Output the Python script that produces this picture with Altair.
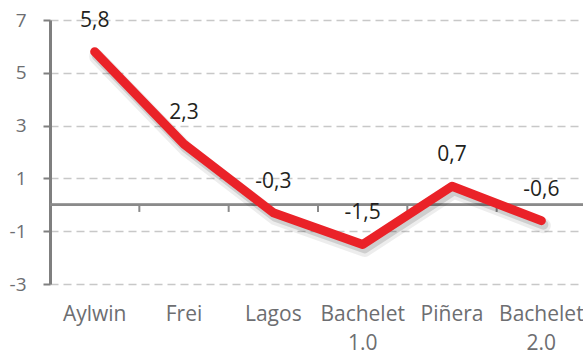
import altair as alt
import pandas as pd

# GDP-style change by presidency
presidents = ["Aylwin", "Frei", "Lagos", "Bachelet 1.0", "Piñera", "Bachelet 2.0"]
values = [5.8, 2.3, -0.3, -1.5, 0.7, -0.6]
y_ticks = [-3, -1, 1, 3, 5, 7]

df = pd.DataFrame({"presidente": presidents, "valor": values})
df["etiqueta"] = [f"{v:.1f}".replace(".", ",") for v in values]

font = "Open Sans"
axis_gray = "#7f7f7f"
red = "#ea2228"

x_scale = alt.Scale(type="band", domain=presidents, range=[0, 536],
                    paddingInner=0, paddingOuter=0)
y_scale = alt.Scale(domain=[-3, 7], nice=False, zero=False)

x_enc = alt.X(
    "presidente:N", scale=x_scale, bandPosition=0.5,
    axis=alt.Axis(title=None, labelAngle=0, ticks=False, domain=False, grid=False,
                  labelExpr="split(datum.label, ' ')", labelFont=font,
                  labelFontSize=21, labelColor="#6d6e71", labelPadding=30,
                  labelAlign="center", labelLineHeight=29),
)
y_enc = alt.Y(
    "valor:Q", scale=y_scale,
    axis=alt.Axis(title=None, values=y_ticks, grid=True, gridDash=[8, 5],
                  gridColor="#c8c8c8", gridWidth=1.5, domainColor=axis_gray,
                  domainWidth=3, tickColor=axis_gray, tickSize=7, tickWidth=2,
                  labelFont=font, labelFontSize=19, labelColor="#6d6e71",
                  labelPadding=17, labelExpr="toString(datum.value)"),
)

base = alt.Chart(df)

# solid zero line across the plot
zero = base.mark_rule(color="#8a8a8a", strokeWidth=2).encode(y=alt.datum(0))

# small ticks hanging from the zero line between categories
ticks = base.transform_filter(
    alt.datum.presidente != presidents[-1]
).mark_rule(color="#8a8a8a", strokeWidth=2).encode(
    x=alt.X("presidente:N", scale=x_scale, bandPosition=1),
    y=alt.datum(0),
    y2=alt.datum(-0.27),
)

shadow_wide = base.mark_line(color="#000000", opacity=0.07, strokeWidth=15,
                             strokeCap="round", strokeJoin="round",
                             xOffset=2, yOffset=5).encode(x=x_enc, y=y_enc)
shadow = base.mark_line(color="#000000", opacity=0.13, strokeWidth=10,
                        strokeCap="round", strokeJoin="round",
                        xOffset=2, yOffset=4).encode(x=x_enc, y=y_enc)

line = base.mark_line(color=red, strokeWidth=9, strokeCap="round",
                      strokeJoin="round").encode(x=x_enc, y=y_enc)

labels = base.mark_text(font=font, fontSize=21, color="#231f20", dy=-31,
                        baseline="middle").encode(x=x_enc, y=y_enc,
                                                  text="etiqueta:N")

chart = alt.layer(zero, ticks, shadow_wide, shadow, line, labels).properties(
    width=533,
    height=264,
    autosize=alt.AutoSizeParams(type="none"),
    padding={"left": 50, "top": 20, "right": 0, "bottom": 70},
).configure_view(stroke=None)

chart.save("out.html", embed_options={"renderer": "svg", "actions": False})
